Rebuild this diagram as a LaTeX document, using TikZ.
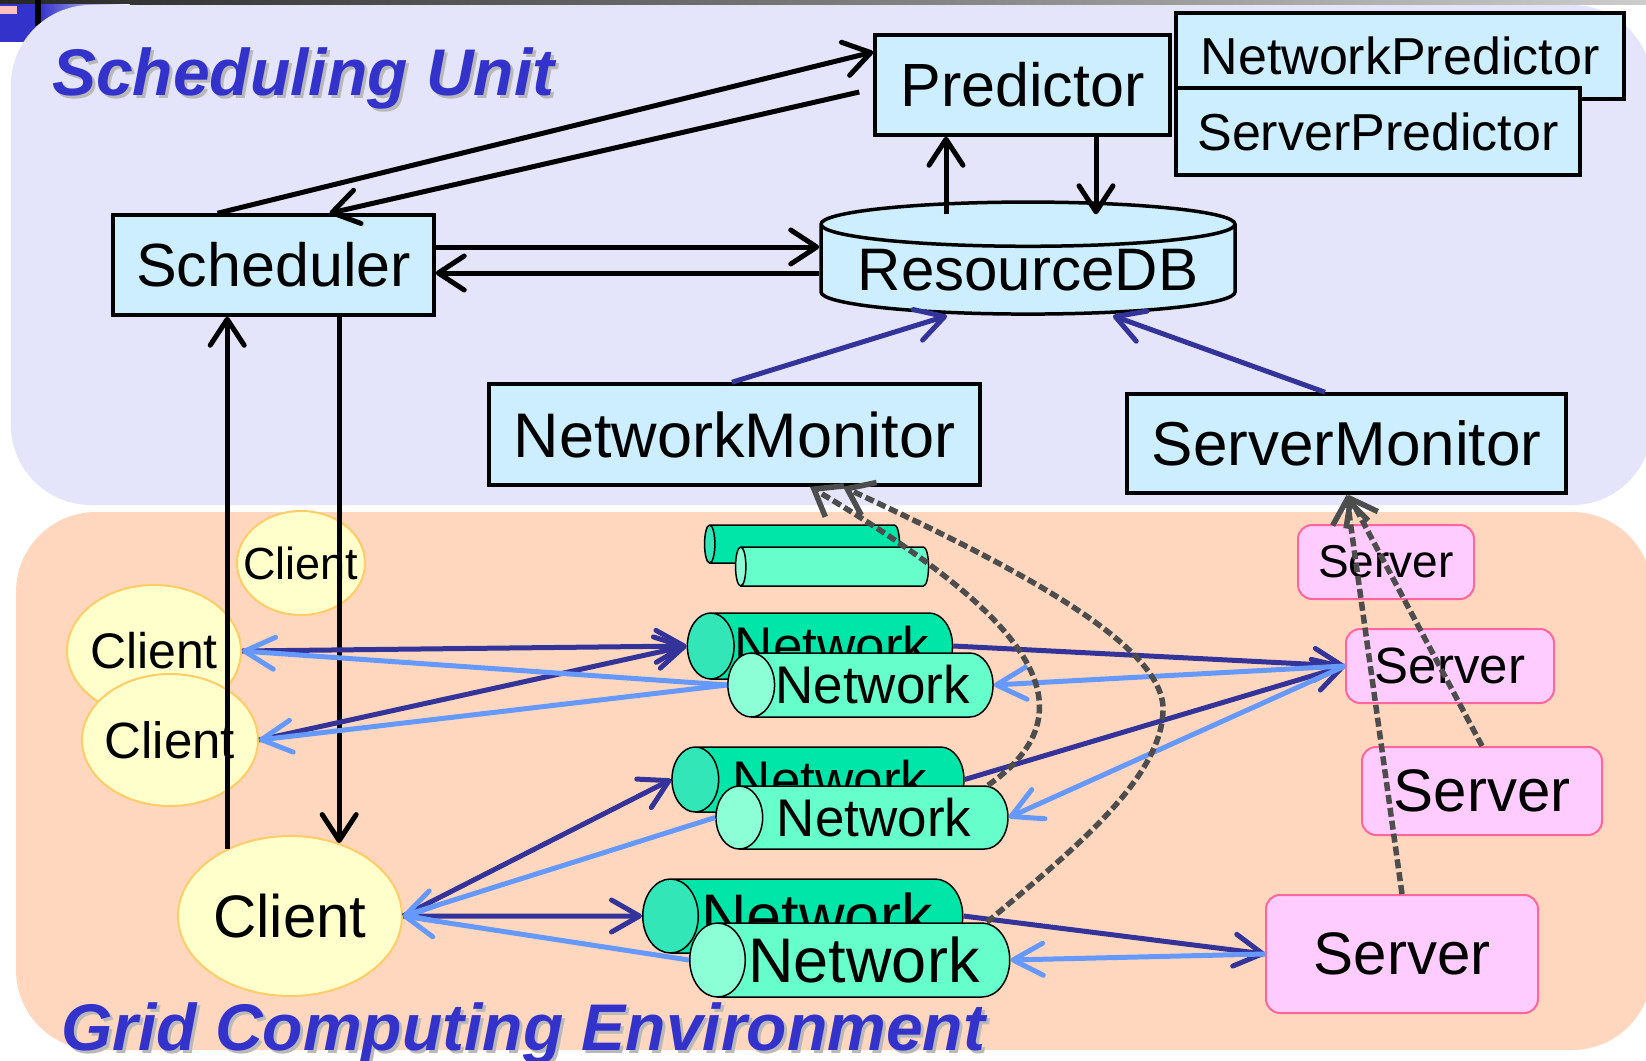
\documentclass[tikz,border=0pt]{standalone}
\usepackage{fontspec}
\setmainfont{Liberation Sans}
\usetikzlibrary{shapes.geometric,arrows.meta}

\definecolor{suback}{HTML}{E4E4FA}
\definecolor{gridback}{HTML}{FFD7BE}
\definecolor{boxfill}{HTML}{CCEEFF}
\definecolor{titleblue}{HTML}{3333CC}
\definecolor{darkarrow}{HTML}{333399}
\definecolor{lightarrow}{HTML}{6699FF}
\definecolor{clientfill}{HTML}{FFFFCC}
\definecolor{clientline}{HTML}{FFCC66}
\definecolor{serverfill}{HTML}{FFCCFF}
\definecolor{serverline}{HTML}{FF6699}
\definecolor{netback}{HTML}{00E6A8}
\definecolor{netbackend}{HTML}{33E6B8}
\definecolor{netfront}{HTML}{66FFCC}
\definecolor{netfrontend}{HTML}{8CFFD6}
\definecolor{monline}{HTML}{4D4D4D}

\newcommand{\fsz}[1]{\fontsize{#1}{#1}\selectfont}
\newcommand{\nowidth}[1]{\makebox[0pt]{#1}}

\begin{document}
\begin{tikzpicture}
[x=1pt, y=-1pt, every node/.style={inner sep=0pt},
 unitbox/.style={rectangle, fill=boxfill, draw=black, line width=3.5pt},
 client/.style={ellipse, fill=clientfill, draw=clientline, line width=2pt},
 server/.style={rectangle, rounded corners=14pt, fill=serverfill, draw=serverline, line width=2pt},
 netb/.style={cylinder, shape border rotate=180, aspect=1.2, draw=black, line width=1.5pt, cylinder uses custom fill, cylinder body fill=netback, cylinder end fill=netbackend},
 netf/.style={netb, cylinder body fill=netfront, cylinder end fill=netfrontend},
 ctrl/.style={line width=5pt, color=black, -{Straight Barb[length=26pt, width=34pt, round]}},
 req/.style={line width=5pt, color=darkarrow, -{Straight Barb[length=28pt, width=32pt, round]}},
 rep/.style={line width=5pt, color=lightarrow, -{Straight Barb[length=30pt, width=32pt, round]}},
 mon/.style={line width=5.5pt, color=monline, dash pattern=on 9pt off 4pt, -{Straight Barb[length=24pt, width=36pt]}}]
\useasboundingbox (0,0) rectangle (1646,1060);
\fill [white] (0,0) rectangle (1646,1060);

% slide corner
\shade [left color=black!85, right color=gray!40] (0,0) rectangle (1646,4);
\fill [titleblue] (0,4) rectangle (40,42);
\shade [left color=titleblue, right color=white] (40,4) rectangle (130,30);
\fill [pink] (0,6) rectangle (17,14);
\fill [black] (35,0) rectangle (41,26);

% panels
\fill [suback, rounded corners=80pt] (11,5) rectangle (1652,505);
\fill [gridback, rounded corners=80pt] (16,512) rectangle (1652,1050);

\node (sushadow) [anchor=base west, text=gray!55, font=\fsz{66}\bfseries\itshape] at (55,98) {Scheduling Unit};
\node (sutitle) [anchor=base west, text=titleblue, font=\fsz{66}\bfseries\itshape] at (52,95) {Scheduling Unit};

% scheduling unit
\node (nwpred) [unitbox, minimum width=448pt, minimum height=86pt, font=\fsz{52}] at (1400,56) {NetworkPredictor};
\node (svpred) [unitbox, minimum width=404pt, minimum height=87pt, font=\fsz{52}] at (1378,131.5) {ServerPredictor};
\node (pred) [unitbox, minimum width=295pt, minimum height=100pt, font=\fsz{61}] at (1022.5,85) {Predictor};
\node (sched) [unitbox, minimum width=321pt, minimum height=100pt, font=\fsz{61}] at (273.5,265) {Scheduler};
\node (rdb) [cylinder, shape border rotate=90, aspect=0.13, fill=boxfill, draw=black, line width=3.5pt, minimum width=414pt, minimum height=112pt, font=\fsz{60}] at (1028,270) {ResourceDB};
\node (nmon) [unitbox, minimum width=491pt, minimum height=101pt, font=\fsz{63}] at (734.5,434.5) {NetworkMonitor};
\node (smon) [unitbox, minimum width=439pt, minimum height=99pt, font=\fsz{62}] at (1346.5,443.5) {ServerMonitor};

% grid
\node (csmall) [client, minimum width=128pt, minimum height=104pt, font=\fsz{45}] at (301,563) {\nowidth{Client}};
\node (cA) [client, minimum width=174pt, minimum height=132pt, font=\fsz{50}] at (154,651) {\nowidth{Client}};
\node (cB) [client, minimum width=176pt, minimum height=132pt, font=\fsz{51}] at (170,740) {\nowidth{Client}};
\node (cbig) [client, minimum width=224pt, minimum height=160pt, font=\fsz{60}] at (290,916) {\nowidth{Client}};

\node (n0b) [netb, aspect=1.5, minimum height=195pt, minimum width=38pt] at (805,544) {\phantom{N}};
\node (n0f) [netf, aspect=1.5, minimum height=193pt, minimum width=39pt] at (835,566.5) {\phantom{N}};
\node (n1b) [netb, minimum height=264pt, minimum width=66pt, font=\fsz{53}] at (832,646) {Network};
\node (n1f) [netf, minimum height=263pt, minimum width=64pt, font=\fsz{53}] at (872.5,685) {Network};
\node (n2b) [netb, minimum height=292pt, minimum width=65pt, font=\fsz{53}] at (830,779.5) {Network};
\node (n2f) [netf, minimum height=292pt, minimum width=63pt, font=\fsz{53}] at (874,817.5) {Network};
\node (n3b) [netb, minimum height=320pt, minimum width=74pt, font=\fsz{63}] at (817,916) {Network};
\node (n3f) [netf, minimum height=320pt, minimum width=74pt, font=\fsz{63}] at (864,960) {Network};

\node (s1) [server, minimum width=176pt, minimum height=74pt, font=\fsz{46}] at (1386,562) {Server};
\node (s2) [server, minimum width=208pt, minimum height=74pt, font=\fsz{51}] at (1450,666) {Server};
\node (s3) [server, minimum width=240pt, minimum height=88pt, font=\fsz{60}] at (1482,791) {Server};
\node (s4) [server, minimum width=272pt, minimum height=118pt, font=\fsz{60}] at (1402,954) {Server};

\node (gcshadow) [anchor=base west, text=gray!55, font=\fsz{66}\bfseries\itshape] at (64,1053) {Grid Computing Environment};
\node (gctitle) [anchor=base west, text=titleblue, font=\fsz{66}\bfseries\itshape] at (61,1050) {Grid Computing Environment};

% control flow
\draw [ctrl] ([xshift=-56pt]sched.north) to ([yshift=33pt]pred.west);
\draw [ctrl] ([xshift=-14pt,yshift=-7pt]pred.west) to ([xshift=56pt]sched.north);
\draw [ctrl] ([yshift=18pt]sched.east) to ([yshift=18pt]sched.east -| rdb.west);
\draw [ctrl] ([yshift=-8pt]sched.east -| rdb.west) to ([yshift=-8pt]sched.east);
\draw [ctrl] ([xshift=-82pt,yshift=-14pt]rdb.north) to ([xshift=-76.5pt]pred.south);
\draw [ctrl] ([xshift=73.5pt]pred.south) to ([xshift=68pt,yshift=-14pt]rdb.north);
\draw [ctrl] (cbig.133) to (cbig.133 |- sched.south);
\draw [ctrl] (sched.south -| cbig.56) to (cbig.56);
\draw [req] ([xshift=-2.5pt]nmon.north) to ([xshift=-81pt]rdb.south);
\draw [req] ([xshift=-21.5pt]smon.north) to ([xshift=85pt]rdb.south);

% requests and replies
\draw [req] (cA.east) to (n1b.west);
\draw [req] (cB.east) to (n1b.west);
\draw [rep] (n1f.west) to (cA.east);
\draw [rep] (n1f.west) to (cB.east);
\draw [req] (cbig.east) to (n2b.west);
\draw [req] (cbig.east) to (n3b.west);
\draw [rep] (n2f.west) to (cbig.east);
\draw [rep] (n3f.west) to (cbig.east);
\draw [req] (n1b.east) to (s2.west);
\draw [req] (n2b.east) to (s2.west);
\draw [req] (n3b.east) to (s4.west);
\draw [rep] (s2.west) to (n1f.east);
\draw [rep] (s2.west) to (n2f.east);
\draw [rep] (s4.west) to (n3f.east);

% monitoring
\draw [mon] ([xshift=114pt]n2f.north) .. controls (1110,700) and (1000,600) .. ([xshift=75.5pt]nmon.south);
\draw [mon] ([xshift=123pt]n3f.north) .. controls (1060,860) and (1165,780) .. (1163,707) .. controls (1160,640) and (1000,560) .. ([xshift=108.5pt]nmon.south);
\draw [mon] (s4.north) to (smon.south);
\draw [mon] (s3.north) to ([xshift=2pt]smon.south);
\end{tikzpicture}
\end{document}
